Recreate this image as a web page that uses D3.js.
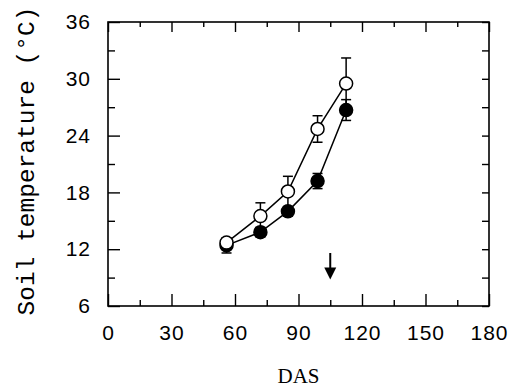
<!DOCTYPE html>
<html>
<head>
<meta charset="utf-8">
<script src="https://cdn.jsdelivr.net/npm/d3@7"></script>
<style>
  body { margin: 0; background: #fff; }
  svg { display: block; }
</style>
</head>
<body>
<div id="chart"></div>
<script>
// values
const das = [56, 72, 85, 99, 112.5];
const openTemp = [12.7, 15.5, 18.1, 24.7, 29.5];
const openErr = [0.4, 1.4, 1.6, 1.4, 2.7];
const filledTemp = [12.4, 13.8, 16.0, 19.2, 26.7];
const filledErr = [0.8, 0.5, 0.5, 0.8, 1.1];
const xTicks = [0, 30, 60, 90, 120, 150, 180];
const yTicks = [6, 12, 18, 24, 30, 36];
const arrowDas = 105;
const arrowFrom = 11.6;
const arrowTo = 8.8;

const width = 516;
const height = 391;
const margin = { top: 22, right: 27, bottom: 85, left: 108 };
const w = width - margin.left - margin.right;
const h = height - margin.top - margin.bottom;

const svg = d3.select('#chart')
  .append('svg')
  .attr('width', width)
  .attr('height', height);

const g = svg.append('g')
  .attr('transform', `translate(${margin.left}, ${margin.top})`);

const x = d3.scaleLinear().domain([0, 180]).range([0, w]);
const y = d3.scaleLinear().domain([6, 36]).range([h, 0]);

const minorX = d3.range(15, 180, 30);
const minorY = d3.range(9, 36, 6);

// inward ticks on all four sides
const tickStyle = (sel) => {
  sel.select('.domain').remove();
  sel.selectAll('line').attr('stroke', '#000').attr('stroke-width', 1.4);
};

const labelStyle = (sel) => {
  sel.selectAll('text')
    .style('font-family', 'Liberation Sans, Arial, sans-serif')
    .style('font-size', '21px')
    .style('letter-spacing', '1px')
    .style('fill', '#000');
};

g.append('g')
  .attr('transform', `translate(0, ${h})`)
  .call(d3.axisBottom(x).tickValues(xTicks).tickSizeInner(-12).tickPadding(19).tickFormat(d3.format('d')))
  .call(tickStyle)
  .call(labelStyle);

g.append('g')
  .attr('transform', `translate(0, ${h})`)
  .call(d3.axisBottom(x).tickValues(minorX).tickSizeInner(-6).tickFormat(''))
  .call(tickStyle);

g.append('g')
  .call(d3.axisTop(x).tickValues(xTicks).tickSizeInner(-10).tickFormat(''))
  .call(tickStyle);

g.append('g')
  .call(d3.axisTop(x).tickValues(minorX).tickSizeInner(-5).tickFormat(''))
  .call(tickStyle);

g.append('g')
  .call(d3.axisLeft(y).tickValues(yTicks).tickSizeInner(-12).tickPadding(17).tickFormat(d3.format('d')))
  .call(tickStyle)
  .call(labelStyle);

g.append('g')
  .call(d3.axisLeft(y).tickValues(minorY).tickSizeInner(-7).tickFormat(''))
  .call(tickStyle);

g.append('g')
  .attr('transform', `translate(${w}, 0)`)
  .call(d3.axisRight(y).tickValues(yTicks.concat(minorY)).tickSizeInner(-7).tickFormat(''))
  .call(tickStyle);

// frame
g.append('rect')
  .attr('x', 0)
  .attr('y', 0)
  .attr('width', w)
  .attr('height', h)
  .attr('fill', 'none')
  .attr('stroke', '#000')
  .attr('stroke-width', 1.6);

const line = d3.line()
  .x(d => x(d[0]))
  .y(d => y(d[1]));

const series = [
  { temp: filledTemp, err: filledErr, fill: '#000' },
  { temp: openTemp, err: openErr, fill: '#fff' }
];

series.forEach(s => {
  g.append('path')
    .datum(das.map((d, i) => [d, s.temp[i]]))
    .attr('d', line)
    .attr('fill', 'none')
    .attr('stroke', '#000')
    .attr('stroke-width', 1.5);
});

series.forEach(s => {
  const bars = g.append('g');
  das.forEach((d, i) => {
    const cx = x(d);
    const top = y(s.temp[i] + s.err[i]);
    const bottom = y(s.temp[i] - s.err[i]);
    bars.append('line')
      .attr('x1', cx).attr('x2', cx)
      .attr('y1', top).attr('y2', bottom)
      .attr('stroke', '#000').attr('stroke-width', 1.5);
    [top, bottom].forEach(yy => {
      bars.append('line')
        .attr('x1', cx - 5).attr('x2', cx + 5)
        .attr('y1', yy).attr('y2', yy)
        .attr('stroke', '#000').attr('stroke-width', 1.5);
    });
  });
});

series.forEach(s => {
  g.selectAll(null)
    .data(das)
    .enter()
    .append('circle')
    .attr('cx', d => x(d))
    .attr('cy', (d, i) => y(s.temp[i]))
    .attr('r', 6.5)
    .attr('fill', s.fill)
    .attr('stroke', '#000')
    .attr('stroke-width', 1.5);
});

// arrow
g.append('line')
  .attr('x1', x(arrowDas)).attr('x2', x(arrowDas))
  .attr('y1', y(arrowFrom)).attr('y2', y(arrowTo) - 8)
  .attr('stroke', '#000').attr('stroke-width', 2);

g.append('path')
  .attr('d', `M${x(arrowDas) - 6},${y(arrowTo) - 12} L${x(arrowDas) + 6},${y(arrowTo) - 12} L${x(arrowDas)},${y(arrowTo)} Z`)
  .attr('fill', '#000');

// axis titles
svg.append('text')
  .attr('x', margin.left + w / 2)
  .attr('y', 383)
  .attr('text-anchor', 'middle')
  .style('font-family', 'Liberation Serif, Times New Roman, serif')
  .style('font-size', '21px')
  .text('DAS');

svg.append('text')
  .attr('transform', `translate(34, 161) rotate(-90)`)
  .attr('text-anchor', 'middle')
  .style('font-family', 'Liberation Mono, Courier New, monospace')
  .style('font-size', '24.5px')
  .text('Soil temperature (°C)');
</script>
</body>
</html>
